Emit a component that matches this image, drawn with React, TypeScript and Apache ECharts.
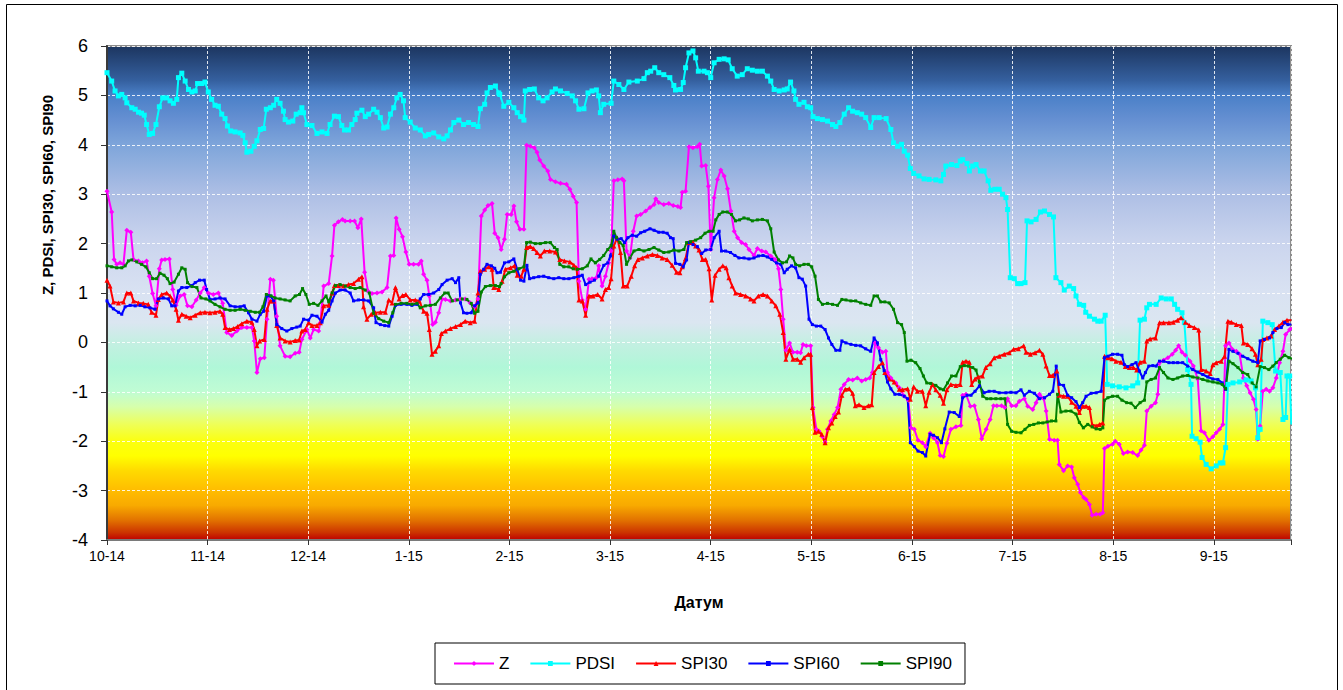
import React, { useEffect, useRef } from "react";
import * as echarts from "echarts";

// Day index (0 = 1 Oct 2014) paired with the index value
const monthLabels = ["10-14", "11-14", "12-14", "1-15", "2-15", "3-15", "4-15", "5-15", "6-15", "7-15", "8-15", "9-15"];

const zData: [number, number][] = [
  [0,3.06],[1.4,2.64],[2.1,1.68],[2.9,1.58],[3.9,1.61],[4.9,1.58],[5.9,2.27],[7.1,2.23],[7.9,1.68],[9.4,1.65],[10.6,1.61],[11.8,1.65],[12.6,1.34],[13.6,0.99],[14.6,0.74],[15.6,1.49],[16.3,1.67],[17.3,1.68],[18.6,1.69],[19.6,1.07],[20.6,0.75],[21.8,0.94],[23,0.97],[24,0.74],[25.3,0.72],[26.6,0.86],[27.8,1],[29,1.11],[30.2,1],[31.7,0.97],[33.2,1],[34.5,0.79],[35.7,0.2],[37.2,0.14],[38.7,0.23],[40.2,0.3],[41.7,0.3],[43.2,0.3],[43.9,0.03],[44.7,-0.61],[45.7,-0.33],[46.9,-0.31],[47.7,0.47],[48.7,1.28],[49.6,1.26],[50.6,0.53],[51.6,-0.07],[53.1,-0.28],[54.6,-0.29],[56.1,-0.22],[57.3,-0.2],[58.1,0.06],[59.6,0.26],[60.6,0.09],[61.6,0.26],[63.1,0.23],[63.6,0.4],[64.6,1.14],[66.1,1.19],[67.1,1.75],[67.8,2.37],[69,2.44],[70.2,2.49],[71,2.46],[72.5,2.46],[73.8,2.46],[74.8,2.32],[75.8,2.5],[76.8,1.42],[77.8,1.04],[79,0.99],[80.5,1],[82,1.02],[83.5,1.11],[84.5,1.75],[85.5,1.76],[86.2,2.52],[87.1,2.29],[88.1,2.14],[89.1,1.83],[90.1,1.58],[91.4,1.58],[92.9,1.58],[93.7,1.65],[94.4,1.38],[95.4,1.26],[96.1,0.94],[97.1,0.36],[97.9,0.41],[98.9,0.6],[99.9,0.88],[100.9,0.87],[102.4,0.84],[103.9,0.86],[105.4,0.88],[106.8,0.88],[108.3,0.8],[109.6,0.72],[110.6,0.88],[111.6,2.56],[112.6,2.68],[113.6,2.77],[114.8,2.81],[115.6,2.21],[116.6,2.12],[117.5,1.88],[118.5,2.09],[119.3,2.59],[120.5,2.59],[121.3,2.76],[122.1,2.44],[123.1,2.29],[124.3,2.29],[125.1,3.99],[126.2,3.97],[127.4,3.94],[128.2,3.85],[129,3.69],[130.2,3.57],[131.4,3.47],[132.2,3.3],[133.7,3.25],[135.2,3.22],[137,3.2],[138,3.1],[139,2.96],[140,2.83],[140.7,1.24],[141.7,0.86],[142.7,0.67],[143.7,1.28],[144.6,1.29],[145.9,1.31],[146.6,1.55],[147.6,1.14],[148.6,1.34],[149.6,1.61],[150.3,1.85],[151.1,3.27],[152.3,3.29],[153.6,3.31],[154.1,3.27],[154.9,1.85],[155.9,1.71],[156.9,2.25],[157.9,2.56],[159.1,2.59],[160.6,2.66],[161.9,2.73],[163.1,2.79],[163.6,2.91],[164.5,2.83],[166,2.79],[167.5,2.81],[168.8,2.77],[170.2,2.75],[171,2.73],[171.5,3.04],[172.5,3.06],[173.5,3.96],[174.7,3.94],[176,3.96],[176.7,4.01],[177.3,3.57],[178.5,3.58],[179.3,3.16],[180,1.88],[181,2.93],[182,3.3],[183,3.49],[184,3.37],[185,3.11],[186,2.66],[187,2.25],[188,2.12],[189.2,2.02],[190.4,1.98],[191.4,1.88],[192.9,1.76],[193.9,1.9],[195.2,1.85],[196.4,1.83],[197.9,1.75],[199.2,1.68],[200.2,1.49],[200.9,1.07],[201.6,0.47],[202.4,-0.16],[203.5,-0.01],[204.5,-0.2],[205.8,-0.2],[206.8,-0.21],[207.5,-0.04],[208.5,-0.07],[209.8,-0.07],[210.5,-1.32],[211.5,-1.76],[212.3,-1.8],[213.3,-1.91],[214.1,-2.02],[214.8,-1.76],[215.8,-1.59],[216.8,-1.46],[217.8,-1.32],[218.8,-0.95],[219.8,-0.85],[221.1,-0.75],[222.3,-0.76],[223.7,-0.72],[225,-0.78],[226.2,-0.75],[227.4,-0.72],[228.2,-0.61],[229,-0.01],[230,-0.11],[231.2,-0.2],[232.2,-0.18],[232.7,-0.61],[233.7,-0.72],[235.2,-0.82],[236.2,-0.92],[237.7,-1.09],[238.9,-1.17],[239.7,-1.73],[240.7,-1.76],[241.8,-1.98],[243.1,-2.03],[244.1,-2.11],[245.4,-1.84],[246.4,-1.93],[247.6,-2.03],[248.4,-2.29],[249.4,-2.31],[250.4,-2.04],[251.6,-1.76],[253.1,-1.71],[254.6,-1.68],[255.1,-1.07],[256.1,-1.05],[257.4,-1.29],[258.6,-1.28],[259.8,-1.56],[260.8,-1.95],[262.1,-1.76],[263.3,-1.56],[264.3,-1.28],[265.3,-1.28],[266.7,-1.28],[267.7,-1.32],[268.5,-1.14],[269.7,-1.28],[271,-1.28],[272,-1.19],[273.5,-1.14],[274.5,-1.29],[276,-1.36],[277,-1.22],[278,-1.05],[279.3,-1.14],[280,-1.39],[281,-1.96],[282.4,-1.98],[283.4,-1.98],[283.9,-2.47],[285.2,-2.6],[286.4,-2.5],[287.6,-2.52],[288.4,-2.74],[289.4,-2.87],[290.2,-3.04],[291.2,-3.14],[291.9,-3.18],[292.9,-3.28],[293.7,-3.5],[294.9,-3.48],[296.1,-3.48],[296.9,-3.45],[297.4,-2.15],[298.4,-2.1],[299.8,-2.06],[300.6,-2],[301.8,-2.06],[303,-2.25],[304.3,-2.22],[305.8,-2.23],[307.3,-2.29],[308.3,-2.18],[309.3,-2.08],[310,-1.39],[311.3,-1.29],[312.6,-1.22],[313.3,-1.05],[313.8,-0.41],[315,-0.36],[316.3,-0.31],[317.6,-0.24],[318.6,-0.16],[319.5,-0.07],[320.5,-0.2],[321.5,-0.26],[322.9,-0.38],[323.9,-0.48],[325.2,-0.74],[326.2,-1.79],[327.2,-1.83],[328.5,-1.98],[329.7,-1.91],[330.7,-1.83],[331.7,-1.76],[332.7,-1.66],[333.5,-0.07],[334.5,-0.01],[335.5,-0.14],[336.7,-0.18],[337.7,-0.24],[338.8,-0.72],[339.8,-0.88],[340.8,-1.02],[341.8,-1.15],[342.6,-1.36],[343.1,-1.96],[343.8,-1.69],[344.6,-0.99],[345.6,-0.95],[346.6,-0.99],[347.6,-0.92],[348.6,-0.72],[349.6,-0.41],[350.6,-0.18],[351.4,0.16],[352.6,0.26],[353.4,0.3]
];

const pdsiData: [number, number][] = [
  [0,5.46],[1.4,5.29],[2.4,5.09],[3.4,4.99],[4.4,5.02],[5.4,4.95],[5.9,4.85],[7.4,4.75],[8.4,4.72],[9.4,4.66],[10.3,4.64],[11.1,4.6],[11.8,4.41],[12.6,4.21],[13.6,4.23],[14.6,4.41],[15.6,4.77],[16.6,4.95],[17.8,4.95],[18.8,4.89],[19.8,4.84],[20.8,4.92],[21.3,5.36],[22.3,5.45],[23.3,5.29],[24.3,5.12],[25.3,5.07],[26.3,5.09],[27,5.24],[28.3,5.24],[29.2,5.27],[30.2,5.07],[31.2,4.92],[32.2,4.8],[33.2,4.78],[34.2,4.62],[35.2,4.53],[35.9,4.38],[36.9,4.28],[38.2,4.26],[39.7,4.24],[40.5,4.19],[41.2,4.04],[41.7,3.85],[42.9,3.87],[43.9,3.97],[44.7,4.08],[45.7,4.31],[46.7,4.33],[47.5,4.72],[48.7,4.75],[49.7,4.8],[50.6,4.92],[51.6,4.84],[52.6,4.68],[53.1,4.51],[54.1,4.46],[55.4,4.48],[56.4,4.62],[57.6,4.65],[58.1,4.75],[58.6,4.65],[59.6,4.41],[61.1,4.39],[62.6,4.23],[64.1,4.26],[65.6,4.23],[66.5,4.41],[67.8,4.58],[69,4.57],[70,4.39],[70.8,4.3],[72,4.3],[73,4.41],[74,4.51],[74.5,4.64],[76,4.7],[77,4.57],[78,4.62],[79.5,4.72],[80.5,4.66],[81.5,4.55],[82.5,4.34],[83.5,4.36],[84.5,4.62],[85.5,4.75],[86.4,4.95],[87.4,5.02],[88.4,4.89],[88.9,4.55],[90.4,4.46],[91.9,4.34],[93.4,4.3],[94.9,4.18],[95.9,4.21],[97.4,4.24],[98.9,4.16],[100.4,4.12],[101.4,4.18],[102.4,4.3],[103.4,4.45],[104.9,4.5],[106.3,4.41],[107.8,4.45],[109.3,4.41],[110.6,4.37],[111.3,4.73],[112.6,4.82],[113.3,5.05],[114.3,5.16],[115.8,5.19],[116.8,5.05],[117.1,5.02],[118.3,4.78],[119.8,4.86],[121.3,4.75],[122.3,4.65],[123.3,4.57],[124.3,4.5],[124.7,5.09],[126,5.12],[127.4,5.13],[128.7,4.95],[130,4.89],[131.2,4.95],[132.7,5.07],[133.7,5.13],[135.2,5.09],[137.2,5.04],[138.7,4.99],[139.7,4.89],[140.7,4.72],[142.2,4.73],[143.4,5.05],[144.6,5.09],[145.9,5.11],[146.6,4.99],[147.1,4.65],[148.1,4.82],[150.3,4.84],[151.1,5.29],[152.6,5.22],[154.1,5.12],[155.6,5.27],[158.1,5.29],[160.1,5.34],[161.1,5.46],[162.1,5.49],[163.3,5.56],[164.5,5.46],[166,5.42],[167.8,5.36],[169,5.2],[169.5,5.11],[171,5.12],[171.8,5.26],[172.5,5.56],[173.5,5.86],[174.7,5.9],[175.5,5.76],[176.3,5.49],[178,5.49],[179,5.46],[180,5.36],[181,5.66],[182.5,5.73],[184,5.74],[185.2,5.72],[186.4,5.54],[187.9,5.39],[189.4,5.42],[190.9,5.54],[192.4,5.51],[193.9,5.49],[195.4,5.49],[196.9,5.39],[197.9,5.29],[198.9,5.12],[200.4,5.09],[201.9,5.11],[202.8,5.13],[203.8,5.27],[204.8,5.09],[205.3,4.92],[206.3,4.82],[207.8,4.86],[208.8,4.77],[209.8,4.75],[210.5,4.57],[211.8,4.53],[213.3,4.51],[214.8,4.48],[216.3,4.41],[217.3,4.37],[218.5,4.45],[219.8,4.62],[221.1,4.75],[222.3,4.68],[223.7,4.65],[225,4.62],[226.2,4.55],[227.7,4.35],[228.7,4.55],[230.2,4.55],[232.3,4.53],[233.7,4.31],[234.5,4.04],[235.7,3.97],[236.9,4.01],[237.7,3.87],[238.7,3.79],[239.5,3.52],[240.5,3.42],[242.1,3.37],[243.6,3.31],[245.1,3.3],[247.1,3.29],[248.6,3.27],[249.4,3.4],[250.1,3.57],[251.8,3.6],[253.4,3.58],[254.4,3.67],[255.1,3.7],[256.4,3.62],[257.1,3.47],[258.1,3.57],[259.1,3.6],[260.4,3.47],[261.5,3.47],[262.7,3.27],[263.5,3.08],[264.7,3.1],[266,3.1],[267,3],[268,2.93],[268.5,2.69],[269.3,1.31],[270.5,1.29],[271.5,1.19],[272.5,1.19],[273.7,1.21],[274.3,2.46],[275.5,2.44],[277,2.49],[278.3,2.64],[279.5,2.66],[281,2.59],[282.2,2.54],[282.9,1.31],[284.4,1.21],[285.4,1.06],[286.9,1.14],[288.2,1.09],[288.9,0.94],[289.9,0.77],[291.2,0.75],[291.8,0.61],[292.9,0.53],[294.4,0.47],[295.4,0.43],[296.4,0.43],[297.6,0.55],[298.2,-0.85],[299.8,-0.88],[301.8,-0.9],[303.8,-0.92],[305.8,-0.88],[307.3,-0.82],[308,0.45],[309.3,0.47],[310,0.7],[310.8,0.77],[312.8,0.77],[314.3,0.9],[315.8,0.88],[317.3,0.88],[318.3,0.77],[319.2,0.67],[320.5,0.6],[321.2,0.4],[322.2,-0.55],[323.2,-0.85],[323.5,-1.9],[324.7,-1.95],[325.9,-2.02],[326.5,-2.33],[327.7,-2.47],[329.2,-2.56],[330.7,-2.5],[331.9,-2.44],[332.7,-2.44],[333.5,-2.13],[334.2,-0.85],[335.7,-0.82],[337.7,-0.8],[339.6,-0.76],[341.1,-0.78],[342.4,-0.92],[343.1,-1.93],[343.8,-1.76],[344.6,0.43],[346.1,0.4],[347.4,0.36],[348.4,-0.58],[349.8,-0.61],[350.6,-1.56],[351.4,-1.52],[351.8,-0.68],[352.6,-0.68],[353.1,-1.66]
];

const spi30Data: [number, number][] = [
  [0,1.26],[0.9,1.14],[1.9,0.82],[3.4,0.8],[4.9,0.82],[5.9,1],[7.1,1],[7.9,0.84],[9.4,0.8],[10.8,0.79],[12.3,0.77],[13.3,0.61],[14.6,0.55],[15.3,0.87],[16.3,0.97],[17.8,1],[18.8,0.94],[19.6,0.86],[20.6,0.67],[21.3,0.45],[22.3,0.57],[23.6,0.53],[24.8,0.5],[26.3,0.55],[27.8,0.6],[29.2,0.61],[30.7,0.6],[32.2,0.61],[33.7,0.63],[34.5,0.57],[35.2,0.3],[36.5,0.26],[37.7,0.28],[38.9,0.32],[40.2,0.38],[41.7,0.43],[43.2,0.41],[43.9,0.26],[44.7,-0.07],[45.5,0.03],[46.9,0.06],[47.7,0.67],[48.7,0.84],[49.7,0.84],[50.6,0.34],[51.6,0.09],[53.1,0.03],[54.6,0.01],[56.1,0.04],[57.3,0.05],[58.1,0.23],[59.1,0.26],[60.1,0.4],[61.1,0.34],[62.6,0.34],[63.6,0.4],[64.6,0.74],[66.1,0.75],[67.1,1],[67.8,1.15],[69,1.15],[70.5,1.14],[72,1.17],[73.5,1.19],[75,1.28],[76,1.33],[76.5,0.72],[77.5,0.47],[78.8,0.57],[80,0.6],[81.5,0.61],[83,0.61],[84,0.86],[85,0.8],[86,1.11],[87.1,0.88],[88.1,0.95],[89.1,0.97],[90.4,0.86],[91.9,0.86],[93.1,0.84],[94.4,0.63],[95.4,0.59],[96.1,0.26],[96.9,-0.24],[97.9,-0.18],[98.9,-0.07],[99.7,0.18],[100.9,0.23],[102.4,0.28],[103.9,0.32],[105.4,0.36],[106.8,0.43],[108.3,0.4],[109.6,0.43],[110.6,1],[111.3,1.44],[112.6,1.48],[113.8,1.53],[114.8,1.48],[115.3,1.11],[116.8,1.07],[117.8,1.24],[118.8,1.48],[120.3,1.51],[121.5,1.55],[122.3,1.36],[123.5,1.34],[124.3,1.48],[125.1,1.92],[126.2,1.94],[127.2,1.9],[128.2,1.82],[129.2,1.75],[130.4,1.85],[132,1.85],[133.7,1.83],[135,1.68],[136.4,1.65],[138,1.63],[139.2,1.56],[140,1.51],[140.7,0.86],[141.7,0.84],[142.7,0.55],[143.7,0.94],[144.9,0.94],[146.3,0.97],[147.6,0.88],[148.6,1.07],[149.6,1.11],[150.3,1.29],[151.1,1.95],[152.1,2.12],[153.1,1.82],[153.9,1.14],[155.1,1.14],[156.3,1.34],[157.3,1.55],[158.3,1.68],[159.6,1.71],[161.1,1.75],[162.6,1.78],[164.1,1.76],[165.5,1.71],[167,1.68],[168.5,1.56],[169.8,1.42],[170.8,1.41],[171.5,1.53],[172.5,1.7],[173.5,2.02],[174.7,2.02],[175.5,1.95],[176.5,1.87],[177.5,1.68],[178.5,1.68],[179.5,1.49],[180.3,0.86],[181.3,1.36],[182.5,1.48],[183.6,1.55],[184.6,1.51],[185.4,1.31],[186.4,1.14],[187.4,1],[188.9,0.97],[190.4,0.94],[191.9,0.88],[192.9,0.84],[194.2,0.94],[195.6,0.97],[196.9,0.94],[198.2,0.84],[199.4,0.74],[200.6,0.57],[201.6,0.2],[202.4,-0.34],[203.5,-0.14],[204.5,-0.34],[205.8,-0.34],[206.8,-0.4],[207.8,-0.31],[209.1,-0.24],[209.8,-0.24],[210.3,-1.32],[211.1,-1.82],[212.1,-1.8],[213.1,-1.86],[214.1,-2.03],[215.1,-1.73],[216.1,-1.63],[217.1,-1.5],[218.1,-1.41],[219.1,-1.07],[220.1,-0.95],[221.3,-0.94],[222.3,-1.03],[223.1,-1.28],[224.2,-1.26],[225.7,-1.32],[227,-1.28],[228,-1.26],[228.7,-0.61],[230,-0.49],[231.2,-0.41],[231.9,-0.61],[233.2,-0.74],[234.7,-0.8],[236.2,-0.95],[237.2,-0.96],[238.7,-0.94],[239.5,-1.15],[240.5,-0.9],[241.6,-0.99],[243.1,-0.99],[244.1,-1.28],[245.1,-1.01],[246.1,-0.85],[247.1,-0.96],[248.4,-1.07],[249.4,-1.23],[250.4,-0.96],[251.6,-0.85],[253.1,-0.87],[254.4,-0.85],[255.1,-0.4],[256.1,-0.38],[257.1,-0.4],[257.8,-0.85],[258.8,-0.74],[259.7,-0.7],[261,-0.68],[262,-0.51],[263.3,-0.43],[264.5,-0.31],[266,-0.28],[267.5,-0.24],[269,-0.21],[270.3,-0.14],[271.7,-0.13],[273.3,-0.07],[274,-0.2],[275.3,-0.24],[276.7,-0.21],[278,-0.16],[279,-0.24],[280,-0.48],[281,-0.67],[282,-0.67],[283.2,-0.58],[283.9,-1.07],[285.2,-1.09],[286.4,-1.09],[287.6,-1.21],[288.9,-1.29],[289.9,-1.42],[290.9,-1.29],[291.9,-1.29],[292.9,-1.32],[293.7,-1.66],[294.9,-1.69],[295.9,-1.66],[296.9,-1.63],[297.4,-0.28],[298.4,-0.31],[299.6,-0.33],[300.8,-0.38],[302.3,-0.4],[303.6,-0.49],[304.8,-0.51],[306,-0.51],[307,-0.56],[308,-0.4],[309.3,-0.38],[310,0.03],[311,0.07],[312.6,0.09],[313.8,0.4],[315,0.4],[316.6,0.4],[317.9,0.41],[319.2,0.45],[320.2,0.5],[321.5,0.41],[322.7,0.34],[324.2,0.3],[325.5,0.25],[326.2,-0.55],[327.7,-0.58],[328.9,-0.63],[329.7,-0.45],[330.7,-0.41],[332.2,-0.38],[333.2,-0.28],[334.2,0.43],[335.2,0.41],[336.7,0.36],[338.2,0.34],[338.8,-0.01],[340.1,-0.04],[341.4,-0.13],[342.4,-0.24],[343.1,-0.45],[344.1,-0.34],[344.6,0.06],[345.8,0.09],[347.1,0.13],[348.1,0.26],[349.4,0.33],[350.6,0.41],[351.8,0.45],[353.1,0.45]
];

const spi60Data: [number, number][] = [
  [0,0.84],[0.9,0.74],[1.9,0.68],[3.4,0.61],[4.4,0.57],[5.4,0.72],[6.9,0.75],[8.4,0.74],[9.9,0.75],[11.3,0.72],[12.8,0.7],[14.3,0.67],[15.3,0.88],[16.8,0.9],[18.3,0.88],[19.3,0.74],[20.3,0.74],[21.3,1.04],[22.3,1.11],[23.8,1.11],[25.3,1.15],[26.3,1.21],[27.6,1.26],[29,1.26],[29.7,1.07],[30.7,0.87],[32.2,0.88],[33.7,0.9],[35.2,0.88],[36.7,0.74],[38.2,0.72],[39.7,0.72],[40.9,0.74],[42.2,0.6],[43.2,0.47],[44.7,0.43],[45.7,0.57],[46.7,0.63],[47.7,0.94],[48.7,0.94],[49.7,0.84],[50.6,0.36],[52.1,0.28],[53.6,0.23],[55.1,0.28],[56.6,0.31],[57.6,0.33],[58.6,0.47],[60.1,0.45],[61.1,0.55],[62.6,0.53],[64.1,0.41],[65.1,0.57],[66.1,0.65],[67.1,0.84],[68.1,1],[69.5,1.06],[71,1.06],[72.5,1],[73.5,0.84],[75,0.86],[76.5,0.86],[78,0.84],[79.5,0.7],[80.2,0.4],[81.5,0.36],[82.8,0.34],[84,0.33],[85,0.53],[86,0.75],[87.7,0.77],[89.4,0.77],[90.9,0.75],[92.4,0.77],[93.4,0.88],[94.4,0.97],[95.9,0.97],[97.4,1],[98.9,1.07],[99.9,1.17],[101.4,1.26],[102.9,1.29],[103.9,1.21],[104.9,1.31],[105.4,0.8],[106.3,0.6],[107.3,0.59],[108.6,0.6],[109.6,0.74],[110.6,0.8],[111.3,1.38],[112.3,1.48],[113.3,1.58],[114.6,1.55],[115.6,1.5],[116.3,1.41],[117.3,1.42],[118.5,1.61],[119.8,1.63],[121.3,1.69],[122.3,1.48],[123.3,1.26],[124.3,1.24],[125.2,1.56],[126,1.29],[127.2,1.31],[128.7,1.33],[130.2,1.34],[131.7,1.31],[133.2,1.29],[134.7,1.31],[136.2,1.29],[137.7,1.29],[139.2,1.31],[140.7,1.34],[141.7,1.36],[142.7,1.17],[144,1.22],[145.3,1.26],[146.6,1.34],[148.1,1.56],[149.3,1.61],[150.1,1.75],[151.1,2.15],[152.1,2.09],[153.3,2.1],[154.3,2.02],[155.3,2.12],[156.6,2.17],[157.9,2.15],[159.1,2.22],[160.3,2.25],[161.9,2.3],[163.1,2.27],[164.5,2.23],[165.8,2.23],[167,2.21],[168,2.12],[168.8,2.1],[169.5,1.6],[170.8,1.58],[171.8,1.53],[172.8,1.67],[173.5,2.02],[174.7,1.98],[176,1.94],[177.3,1.8],[178.5,1.87],[180,1.88],[181,2.12],[182.5,2.25],[183.2,1.85],[184.4,1.85],[185.9,1.82],[187.2,1.76],[188.4,1.71],[189.9,1.71],[191.4,1.69],[192.9,1.71],[194.2,1.75],[195.6,1.76],[196.9,1.73],[198.2,1.68],[199.6,1.61],[200.9,1.58],[201.9,1.41],[202.8,1.48],[204.1,1.55],[205.3,1.51],[206.3,1.31],[207.3,1.28],[208.3,1.14],[209.3,0.47],[210.3,0.36],[211.5,0.33],[212.8,0.33],[214.1,0.26],[215.1,0.09],[216.1,-0.04],[217.3,-0.16],[218.5,-0.16],[219.1,0.03],[220.3,-0.01],[221.8,-0.04],[223.2,-0.06],[224.7,-0.07],[226.2,-0.13],[227.7,-0.18],[228.7,0.09],[229.7,-0.01],[230.7,-0.35],[231.7,-0.57],[232.7,-0.8],[233.7,-0.94],[234.9,-1.05],[236.2,-1.05],[237.7,-1.09],[238.7,-1.14],[239.5,-2.03],[240.7,-2.11],[241.8,-2.2],[243.1,-2.23],[244.1,-2.3],[245.4,-1.86],[246.4,-1.88],[247.6,-1.93],[248.8,-2.03],[249.8,-1.75],[251.1,-1.41],[252.6,-1.42],[254.1,-1.5],[255.1,-1.12],[256.4,-1.07],[257.6,-1.07],[258.8,-0.99],[260.1,-0.88],[261.5,-1.02],[263,-0.99],[264.5,-0.99],[266,-1.02],[268,-1.02],[269.5,-1.01],[271,-1.02],[272.5,-0.96],[273.5,-1.07],[275,-0.99],[276.5,-1.03],[278,-1.14],[279.5,-1.12],[281,-1.05],[282,-0.99],[283,-0.48],[283.9,-0.85],[285.2,-0.87],[286.4,-1.07],[287.6,-1.12],[288.9,-1.2],[289.9,-1.32],[290.9,-1.22],[291.9,-1.09],[293.4,-1.03],[294.9,-1.02],[296.4,-0.99],[297.4,-0.31],[298.4,-0.28],[299.8,-0.24],[301.3,-0.24],[302.6,-0.26],[303.3,-0.45],[304.3,-0.49],[305.6,-0.45],[306.8,-0.41],[307.8,-0.58],[308.8,-0.72],[309.6,-0.61],[310.6,-0.48],[311.8,-0.47],[312.8,-0.48],[313.8,-0.38],[315,-0.38],[316.6,-0.41],[317.9,-0.41],[319.2,-0.41],[320.7,-0.41],[322.2,-0.48],[323.7,-0.55],[325.2,-0.6],[326.7,-0.65],[328.2,-0.7],[329.7,-0.74],[331.2,-0.75],[332.5,-0.82],[333.5,-0.95],[334.5,-0.14],[335.7,-0.18],[337.2,-0.22],[338.6,-0.28],[340.1,-0.33],[341.6,-0.38],[343.1,-0.41],[343.8,0.03],[345.1,0.06],[346.6,0.09],[347.6,0.2],[348.8,0.28],[350.1,0.3],[351.1,0.4],[352.1,0.36],[353.1,0.36]
];

const spi90Data: [number, number][] = [
  [0,1.55],[1.4,1.53],[2.9,1.51],[4.4,1.51],[5.4,1.55],[6.4,1.65],[7.4,1.67],[8.9,1.63],[10.3,1.58],[11.6,1.53],[12.6,1.41],[13.6,1.29],[14.8,1.29],[15.8,1.4],[17,1.36],[18,1.29],[18.8,1.19],[20,1.22],[21.3,1.38],[22.3,1.51],[23.3,1.48],[24,1.21],[25.3,1.13],[26.8,1.11],[28,0.9],[29.5,0.88],[30.7,0.84],[32.2,0.77],[33.7,0.72],[35.2,0.67],[36.7,0.65],[38.2,0.65],[39.7,0.67],[41.2,0.65],[42.7,0.63],[44.2,0.61],[45.5,0.61],[46.5,0.72],[47.5,0.97],[48.9,0.94],[50.1,0.9],[51.6,0.88],[53.1,0.86],[54.6,0.84],[56.1,0.94],[57.4,0.97],[58.3,1.09],[59.3,0.97],[60.3,0.77],[61.6,0.79],[62.9,0.75],[64.1,0.84],[65.3,0.94],[66.1,0.82],[67.1,1],[68.1,1.15],[69.5,1.17],[71,1.14],[72.5,1.11],[74,1.09],[75.5,1.11],[77,1.06],[78.2,1],[79.5,0.59],[81,0.48],[82.5,0.43],[84,0.4],[85.2,0.6],[86,0.77],[87.7,0.79],[89.4,0.79],[90.9,0.77],[92.4,0.79],[93.4,0.7],[94.9,0.74],[96.4,0.75],[97.9,0.77],[99.4,0.9],[100.7,1],[101.7,1],[102.9,0.84],[104.4,0.86],[105.9,0.88],[107.3,0.87],[108.6,0.79],[109.6,0.59],[110.6,0.63],[111.6,1.02],[112.8,1.13],[114.3,1.15],[115.8,1.15],[117,1.13],[117.5,1.19],[118.5,1.33],[119.8,1.41],[121.3,1.44],[122.8,1.49],[124.3,1.53],[125.1,2.02],[126.2,2.03],[127.7,2],[129.2,2],[130.7,2.02],[132.2,2.02],[133.4,1.92],[134.2,1.88],[135,1.58],[136.2,1.53],[137.7,1.53],[139,1.49],[140.2,1.48],[141.7,1.49],[143.2,1.55],[144.3,1.69],[145.6,1.61],[146.9,1.68],[148.1,1.76],[149.3,1.88],[150.3,1.96],[151.1,2.25],[151.9,2.12],[152.9,2.02],[153.9,1.96],[154.9,1.58],[155.9,1.71],[157.1,1.85],[158.6,1.88],[160.1,1.85],[161.6,1.88],[163.1,1.92],[164.5,1.87],[166,1.82],[167.5,1.83],[169,1.87],[170.5,1.85],[172,1.88],[172.8,2.02],[174,2.04],[175.5,2.07],[177,2.12],[178.3,2.21],[179.5,2.25],[180.7,2.25],[181.5,2.48],[182.5,2.59],[183.6,2.64],[184.9,2.64],[186.2,2.59],[187.4,2.46],[188.6,2.48],[189.9,2.52],[191.2,2.5],[192.4,2.46],[193.9,2.48],[195.4,2.49],[196.9,2.46],[197.9,2.3],[198.9,1.83],[200.2,1.67],[201.4,1.61],[202.6,1.63],[203.5,1.75],[204.5,1.71],[205.3,1.58],[206.5,1.55],[207.8,1.58],[209.1,1.58],[210.1,1.53],[211.1,1.34],[212.1,0.87],[213.3,0.77],[214.8,0.79],[216.3,0.77],[217.8,0.75],[219.1,0.87],[220.3,0.86],[221.8,0.84],[223.2,0.84],[224.7,0.8],[226.2,0.77],[227.7,0.75],[228.7,0.94],[229.7,0.94],[230.7,0.82],[231.9,0.82],[233.2,0.8],[234.5,0.67],[235.7,0.4],[236.9,0.36],[237.7,0.2],[238.5,-0.38],[239.7,-0.36],[241.1,-0.41],[242.4,-0.53],[243.4,-0.68],[244.4,-0.82],[245.6,-0.83],[247.1,-0.87],[248.4,-0.94],[249.4,-0.96],[250.6,-0.82],[251.8,-0.68],[253.1,-0.68],[254.4,-0.49],[255.6,-0.47],[256.8,-0.48],[258.1,-0.51],[259.1,-0.56],[260.1,-0.8],[261.1,-1.09],[262.3,-1.14],[263.5,-1.14],[265,-1.14],[266.5,-1.14],[267.7,-1.14],[268.5,-1.66],[269.7,-1.8],[271,-1.82],[272.5,-1.83],[273.7,-1.76],[275,-1.68],[276.3,-1.66],[277.7,-1.63],[279,-1.63],[280.3,-1.61],[281.6,-1.59],[282.9,-1.59],[283.4,-1.05],[284.4,-1.41],[285.9,-1.39],[287.4,-1.39],[288.9,-1.45],[289.9,-1.62],[291.1,-1.73],[292.4,-1.66],[293.7,-1.71],[294.9,-1.75],[296.1,-1.76],[296.9,-1.73],[297.4,-1.17],[298.4,-1.12],[299.8,-1.09],[301.3,-1.09],[302.6,-1.17],[304,-1.22],[305.3,-1.23],[306.6,-1.32],[308,-1.22],[309.3,-1.17],[310,-0.8],[311.3,-0.75],[312.6,-0.72],[313.8,-0.51],[315,-0.61],[316.3,-0.72],[317.8,-0.75],[319.2,-0.72],[320.7,-0.68],[322.2,-0.67],[323.7,-0.7],[325.2,-0.72],[326.7,-0.75],[328.2,-0.78],[329.7,-0.8],[331.2,-0.82],[332.5,-0.85],[333.5,-0.94],[334.5,-0.38],[335.7,-0.43],[337.2,-0.51],[338.6,-0.61],[340.1,-0.65],[341.4,-0.82],[342.6,-0.9],[343.8,-0.49],[345.1,-0.51],[346.4,-0.55],[347.6,-0.48],[348.6,-0.41],[349.8,-0.34],[351.1,-0.26],[352.4,-0.31],[353.4,-0.33]
];

const FONT = '"Liberation Sans", Arial, sans-serif';

// Background bands of the plot, from wet (top, 6) to dry (bottom, -4)
const bandStops: [number, string][] = [
  [6, "#1c355f"], [5.3, "#35609f"], [5, "#4a80c8"], [4.5, "#6690d2"], [4, "#7ea5da"],
  [3, "#aebfe5"], [2, "#cbd5ee"], [1, "#d9e2f2"], [0.4, "#dbe6f1"], [0, "#c4efe2"],
  [-0.5, "#b0f7d8"], [-1, "#c0fcd4"], [-1.3, "#d6ffac"], [-1.65, "#eeff5a"], [-2, "#fbff10"],
  [-2.3, "#ffff00"], [-2.6, "#ffda00"], [-3, "#ffbc00"], [-3.3, "#f8aa00"], [-3.6, "#e27200"],
  [-3.85, "#cc3300"], [-4, "#bf0000"]
];

export default function App() {
  const ref = useRef<HTMLDivElement>(null);

  useEffect(() => {
    if (!ref.current) return;
    const chart = echarts.init(ref.current, undefined, { renderer: "svg" });

    const yMax = 6;
    const yMin = -4;
    const gradient = new echarts.graphic.LinearGradient(
      0, 0, 0, 1,
      bandStops.map(([v, c]) => ({ offset: (yMax - v) / (yMax - yMin), color: c }))
    );

    const line = (name: string, data: [number, number][], color: string, symbol: string, symbolSize: number) => ({
      name,
      type: "line",
      data,
      symbol,
      symbolSize,
      showSymbol: true,
      lineStyle: { color, width: 2 },
      itemStyle: { color, borderWidth: 0 },
      emphasis: { disabled: true },
    });

    chart.setOption({
      animation: false,
      backgroundColor: "#ffffff",
      textStyle: { fontFamily: FONT },
      grid: {
        left: 107, right: 52, top: 46, bottom: 150,
        show: true,
        backgroundColor: gradient,
        borderColor: "#8d8d8d",
        borderWidth: 2,
      },
      xAxis: {
        type: "value",
        min: 0,
        max: 353,
        interval: 30,
        name: "Датум",
        nameLocation: "middle",
        nameGap: 54,
        nameTextStyle: { fontFamily: FONT, fontSize: 16, fontWeight: "bold", color: "#000" },
        axisLine: { show: true, onZero: false, lineStyle: { color: "#7a7a7a", width: 2 } },
        axisTick: { show: true, length: 5, lineStyle: { color: "#333", width: 1 } },
        axisLabel: {
          fontFamily: FONT, fontSize: 14, color: "#000", margin: 9,
          formatter: (v: number) => monthLabels[Math.round(v / 30)] ?? "",
        },
        splitLine: { show: true, lineStyle: { color: "rgba(255,255,255,0.85)", type: [3, 2], width: 1 } },
      },
      yAxis: {
        type: "value",
        min: yMin,
        max: yMax,
        interval: 1,
        axisLine: { show: true, lineStyle: { color: "#3a3a3a", width: 2 } },
        axisTick: { show: true, length: 6, lineStyle: { color: "#333", width: 1 } },
        axisLabel: { fontFamily: FONT, fontSize: 18, color: "#000", margin: 19 },
        splitLine: { show: true, lineStyle: { color: "rgba(255,255,255,0.85)", type: [3, 2], width: 1 } },
      },
      legend: {
        left: 435,
        top: 643,
        padding: [12, 13, 12, 18],
        itemGap: 20,
        itemWidth: 40,
        itemHeight: 6,
        borderColor: "#000",
        borderWidth: 1,
        borderRadius: 0,
        textStyle: { fontFamily: FONT, fontSize: 17, color: "#000" },
        data: ["Z", "PDSI", "SPI30", "SPI60", "SPI90"],
      },
      graphic: [
        {
          type: "rect",
          silent: true,
          shape: { x: 6.5, y: 4.5, width: 1331, height: 720 },
          style: { fill: "none", stroke: "#000", lineWidth: 1 },
        },
        {
          type: "text",
          silent: true,
          x: 47,
          y: 195,
          rotation: Math.PI / 2,
          style: {
            text: "Z, PDSI, SPI30, SPI60, SPI90",
            font: `bold 15px ${FONT}`,
            fill: "#000",
            align: "center",
            verticalAlign: "middle",
          },
        },
      ],
      series: [
        line("Z", zData, "#ff00ff", "diamond", 5),
        line("PDSI", pdsiData, "#00ffff", "rect", 5),
        line("SPI30", spi30Data, "#ff0000", "triangle", 5),
        line("SPI60", spi60Data, "#0000ff", "rect", 3),
        line("SPI90", spi90Data, "#008000", "rect", 3),
      ],
    });

    return () => chart.dispose();
  }, []);

  return (
    <div
      ref={ref}
      style={{ position: "absolute", left: 0, top: 0, width: 1343, height: 690 }}
    />
  );
}
